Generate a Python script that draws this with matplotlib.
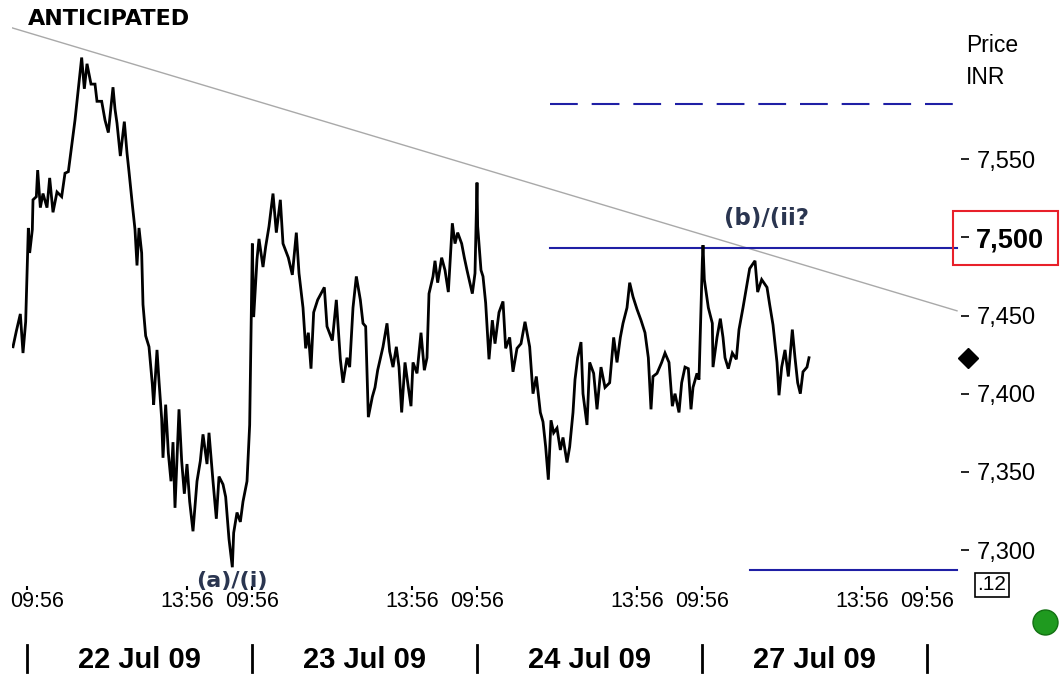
import matplotlib
matplotlib.use("Agg")
import numpy as np
import matplotlib.pyplot as plt
from matplotlib.transforms import blended_transform_factory
from matplotlib.patches import Rectangle
from matplotlib.lines import Line2D

plt.rcParams['font.family'] = ['Liberation Sans', 'DejaVu Sans']
plt.rcParams['lines.scale_dashes'] = False

# trading minutes since 22 Jul 09 09:56 (sessions joined back to back)
minutes = [
    -21, -16, -10, -6, -2, 2, 4, 8, 9, 14, 16, 20, 24, 30, 34, 39, 45, 52, 57, 62,
    68, 72, 76, 82, 86, 90, 96, 102, 105, 112, 117, 122, 129, 132, 135, 140, 146, 150, 153, 158,
    162, 165, 168, 172, 174, 178, 183, 188, 190, 195, 198, 202, 204, 208, 212, 216, 219, 222, 228, 232,
    236, 240, 244, 249, 255, 260, 264, 270, 273, 279, 284, 288, 294, 298, 303, 308, 310, 315, 320, 324,
    330, 334,
    338, 340, 345, 348, 354, 358, 363, 369, 374, 380, 384, 392, 398, 404, 408, 414, 418, 422, 426, 430,
    436, 446, 450, 458, 464, 470, 474, 480, 484, 489, 494, 500, 504, 508, 512, 518, 522, 526, 534, 540,
    544, 549, 554, 558, 562, 567, 572, 576, 579, 585, 591, 596, 600, 603, 609, 612, 616, 622, 627, 632,
    638, 642, 646, 652, 656, 660, 668, 672,
    675, 676, 681, 684, 688, 693, 698, 702, 708, 714, 718, 724, 729, 735, 741, 747, 754, 759, 764, 770,
    774, 778, 782, 786, 790, 795, 800, 804, 810, 814, 819, 822, 826, 831, 834, 840, 844, 850, 855, 861,
    867, 874, 880, 885, 890, 894, 900, 904, 909, 915, 921, 927, 932, 936, 939, 945, 952, 957, 963, 968,
    972, 978, 982, 987, 992, 996, 999, 1005, 1008,
    1013, 1014, 1016, 1022, 1028, 1029, 1035, 1040, 1044, 1047, 1052, 1058, 1064, 1068, 1074, 1080, 1084, 1092, 1096, 1102,
    1110, 1114, 1119, 1125, 1128, 1132, 1137, 1142, 1148, 1152, 1156, 1160, 1164, 1170, 1173,
]

prices = [
    7430, 7440, 7451, 7426, 7446, 7506, 7490, 7505, 7524, 7526, 7543, 7519, 7528, 7519, 7538, 7516, 7529, 7526, 7541, 7542,
    7562, 7575, 7591, 7615, 7595, 7611, 7598, 7598, 7587, 7587, 7575, 7567, 7596, 7582, 7573, 7552, 7574, 7554, 7542, 7521,
    7505, 7482, 7506, 7490, 7457, 7437, 7430, 7406, 7393, 7428, 7408, 7384, 7359, 7393, 7362, 7344, 7369, 7327, 7390, 7357,
    7336, 7355, 7331, 7312, 7344, 7357, 7374, 7355, 7375, 7344, 7320, 7347, 7342, 7334, 7307, 7289, 7311, 7324, 7318, 7331,
    7344, 7380,
    7496, 7449, 7486, 7499, 7481, 7494, 7507, 7528, 7503, 7524, 7496, 7487, 7476, 7503, 7477, 7455, 7429, 7439, 7416, 7452,
    7460, 7468, 7443, 7434, 7460, 7422, 7407, 7423, 7417, 7455, 7475, 7460, 7445, 7443, 7385, 7398, 7404, 7415, 7430, 7445,
    7427, 7417, 7430, 7417, 7388, 7420, 7404, 7392, 7420, 7413, 7439, 7415, 7423, 7464, 7475, 7485, 7471, 7487, 7479, 7465,
    7509, 7496, 7503, 7496, 7487, 7479, 7464, 7477,
    7535, 7507, 7479, 7475, 7458, 7422, 7447, 7432, 7452, 7459, 7429, 7436, 7414, 7429, 7432, 7446, 7430, 7400, 7411, 7388,
    7382, 7366, 7345, 7383, 7375, 7378, 7364, 7372, 7356, 7366, 7388, 7409, 7423, 7433, 7400, 7380, 7420, 7413, 7390, 7417,
    7404, 7407, 7436, 7420, 7436, 7445, 7455, 7471, 7462, 7454, 7447, 7439, 7423, 7390, 7411, 7413, 7420, 7426, 7420, 7392,
    7400, 7388, 7407, 7417, 7416, 7390, 7404, 7413, 7409,
    7485, 7495, 7473, 7455, 7445, 7417, 7436, 7448, 7436, 7423, 7416, 7426, 7422, 7441, 7455, 7470, 7480, 7485, 7465, 7473,
    7468, 7457, 7444, 7420, 7399, 7417, 7428, 7411, 7441, 7423, 7407, 7400, 7414, 7417, 7423,
]

day_labels = ['22 Jul 09', '23 Jul 09', '24 Jul 09', '27 Jul 09']
session_len = 337.5
time_ticks = [0, 240, 337.5, 577.5, 675, 915, 1012.5, 1252.5, 1350]
time_labels = ['09:56', '13:56', '09:56', '13:56', '09:56', '13:56', '09:56', '13:56', '09:56']
price_ticks = [7300, 7350, 7400, 7450, 7500, 7550]

# channel / target levels
trend_x = [-22.5, 1395]
trend_y = [7634, 7453]
upper_level, mid_level, low_level = 7585, 7493, 7287
levels_start = 784.5
low_level_start = 1084.5
levels_end = 1395

W, H = 1060, 677
fig = plt.figure(figsize=(W / 100, H / 100), dpi=100)
ax = fig.add_axes([12 / W, (H - 586) / H, 949 / W, 566 / H])

ax.plot(trend_x, trend_y, color='#a9a9a9', lw=1.0)
ax.plot([levels_start, levels_end], [upper_level] * 2, color='#1f1fa5', lw=1.5, dashes=(20, 10))
ax.plot([levels_start, levels_end], [mid_level] * 2, color='#1f1fa5', lw=1.5)
ax.plot([low_level_start, levels_end], [low_level] * 2, color='#1f1fa5', lw=1.5)
ax.plot(minutes, prices, color='black', lw=2.0, solid_joinstyle='miter')

ax.set_xlim(-22.5, 1401)
ax.set_ylim(7277, 7639)
for s in ax.spines.values():
    s.set_visible(False)

ax.yaxis.tick_right()
ax.set_yticks(price_ticks)
ax.set_yticklabels([f"{v:,}" for v in price_ticks])
ax.tick_params(axis='y', length=6, width=1.2, pad=5, labelsize=17)
for lab in ax.get_yticklabels():
    if lab.get_text() == '7,500':
        lab.set_fontweight('bold')
        lab.set_fontsize(19.5)

ax.set_xticks(time_ticks)
ax.tick_params(axis='x', length=3, width=1.5, labelbottom=False)

trans = blended_transform_factory(ax.transData, ax.transAxes)
xmin = ax.get_xlim()[0]
for i, (pos, lab) in enumerate(zip(time_ticks, time_labels)):
    if i == 0:
        ax.text(xmin - 3, -0.028, lab, transform=trans, ha='left', va='center', fontsize=15.5)
    else:
        ax.text(pos, -0.028, lab, transform=trans, ha='center', va='center', fontsize=15.5)

for d in range(len(day_labels) + 1):
    x = d * session_len
    ax.plot([x, x], [-0.104, -0.152], transform=trans, color='black', lw=2, clip_on=False)
for d, lab in enumerate(day_labels):
    ax.text((d + 0.5) * session_len, -0.131, lab, transform=trans, ha='center', va='center',
            fontsize=21, fontweight='bold')

# wave labels
lbl_color = '#2a3550'
i_low = int(np.argmin(prices))
ax.annotate('(a)/(i)', xy=(minutes[i_low], prices[i_low]), xytext=(0, -14), textcoords='offset pixels',
            ha='center', va='center', fontsize=16, fontweight='bold', color=lbl_color, family='DejaVu Sans')
i_b = minutes.index(1092)
ax.annotate('(b)/(ii?', xy=(minutes[i_b], prices[i_b]), xytext=(12, 42), textcoords='offset pixels',
            ha='center', va='center', fontsize=16.5, fontweight='bold', color=lbl_color, family='DejaVu Sans')

# last price marker
ax.plot([1.0074], [prices[-1]], transform=blended_transform_factory(ax.transAxes, ax.transData),
        marker='D', ms=10, color='black', clip_on=False)

fig.text(28 / W, 1 - 19 / H, 'ANTICIPATED', ha='left', va='center', fontsize=16,
         fontweight='bold', family='DejaVu Sans')
fig.text(966 / W, 1 - 46 / H, 'Price', ha='left', va='center', fontsize=16.5)
fig.text(966 / W, 1 - 78 / H, 'INR', ha='left', va='center', fontsize=16.5)

fig.add_artist(Rectangle((953 / W, (H - 265) / H), 105 / W, 54 / H, transform=fig.transFigure,
                         fill=False, ec='#e8202a', lw=1.5))
fig.text(992 / W, 1 - 585 / H, '.12', ha='center', va='center', fontsize=15,
         bbox=dict(boxstyle='square,pad=0.12', fc='white', ec='black', lw=1.2))
fig.add_artist(Line2D([1045 / W], [1 - 622 / H], marker='o', ms=18, mfc='#1f9a1f', mec='#127012',
                      transform=fig.transFigure))

fig.savefig('out.png', dpi=100)
